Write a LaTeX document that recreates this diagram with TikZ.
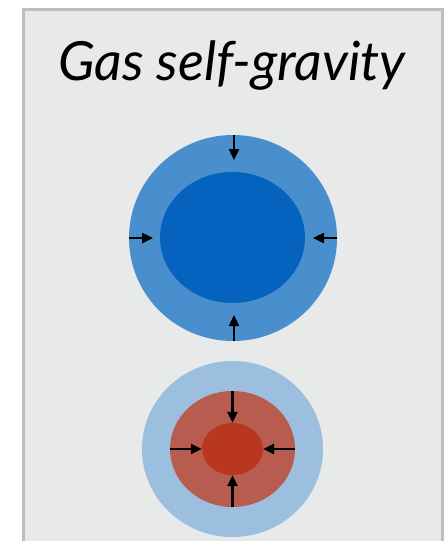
\documentclass[tikz,border=0pt]{standalone}
\usepackage{fontspec}
\setmainfont{Lato}
\usepackage{xcolor}
\usetikzlibrary{arrows.meta,positioning,shapes}
\definecolor{panelbg}{HTML}{E8E9E9}
\definecolor{panelrim}{HTML}{BEBEBE}
\definecolor{cloudblue}{HTML}{4A8FCD}
\definecolor{coreblue}{HTML}{0562BE}
\definecolor{haloblue}{HTML}{9DBFDF}
\definecolor{shellred}{HTML}{B85C50}
\definecolor{corered}{HTML}{B9361F}
\tikzset{
  panel/.style={draw=panelrim,fill=panelbg,line width=3pt},
  blob/.style={ellipse,draw=none,inner sep=0pt},
  pullarr/.style={-{Triangle[length=11pt,width=10pt]},line width=2.4pt,draw=black}
}

\begin{document}
\begin{tikzpicture}[x=1pt,y=-1pt]
  \path[use as bounding box] (0,0) rectangle (445,541);
  \begin{scope}
    \clip (0,0) rectangle (445,541);
    \draw[panel] (23,9) rectangle (442,570);
  \end{scope}
  \node[font=\fontsize{54}{60}\selectfont\itshape] (title) at (232,66)
    {Gas self-gravity};
  % upper cloud
  \node[blob,fill=cloudblue,minimum width=208pt,minimum height=206pt]
    (cloud) at (233,238) {};
  \node[blob,fill=coreblue,minimum width=145pt,minimum height=131pt]
    (core) at (232.5,237.5) {};
  \coordinate (cN) at (234,160);
  \coordinate (cS) at (234,315);
  \coordinate (cW) at (153,238);
  \coordinate (cE) at (313,238);
  \draw[pullarr] (cloud.north -| cN) -- (cN);
  \draw[pullarr] (cloud.south -| cS) -- (cS);
  \draw[pullarr] (cloud.west |- cW) -- (cW);
  \draw[pullarr] (cloud.east |- cE) -- (cE);
  % lower cloud
  \node[blob,fill=haloblue,minimum width=181pt,minimum height=176pt]
    (halo) at (232.5,449) {};
  \node[blob,fill=shellred,minimum width=125pt,minimum height=116pt]
    (shell) at (232.5,449) {};
  \node[blob,fill=corered,minimum width=61pt,minimum height=52pt]
    (clump) at (232.5,449) {};
  \draw[pullarr] (shell.north) -- (clump.north);
  \draw[pullarr] (shell.south) -- (clump.south);
  \draw[pullarr] (shell.west) -- (clump.west);
  \draw[pullarr] (shell.east) -- (clump.east);
\end{tikzpicture}
\end{document}
